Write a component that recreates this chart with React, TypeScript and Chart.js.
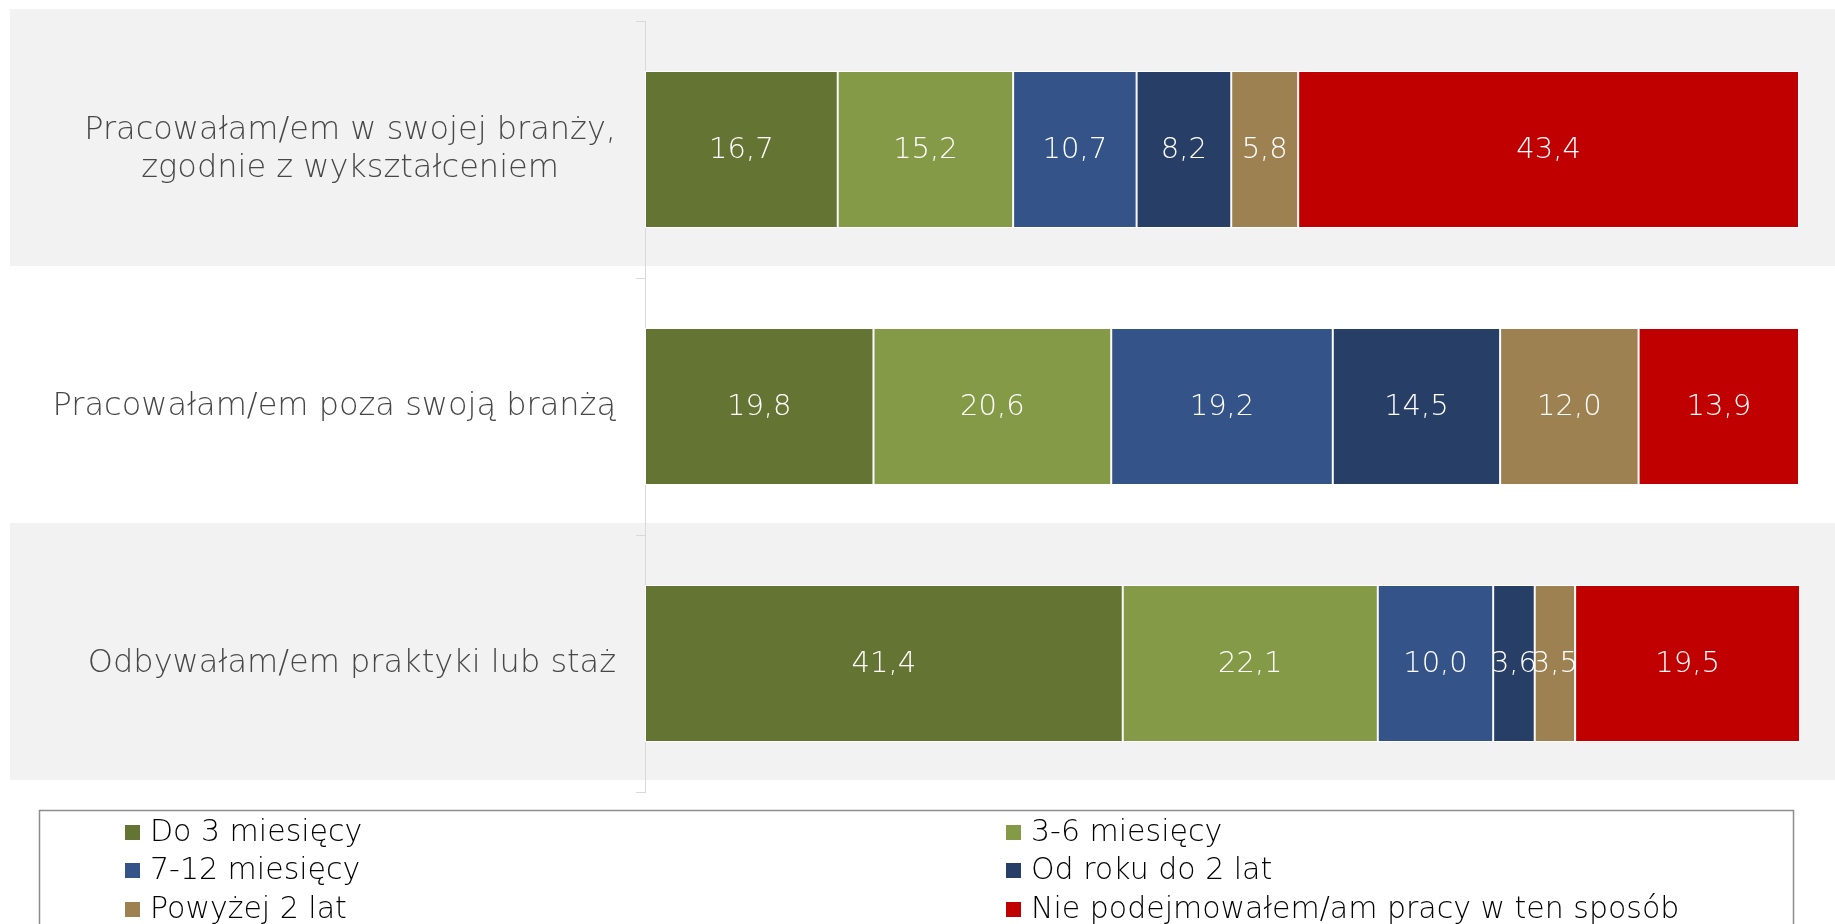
import React, { useEffect, useRef } from 'react';
import { Chart, registerables } from 'chart.js';

Chart.register(...registerables);

const categories: (string | string[])[] = [
  ['Pracowałam/em w swojej branży,', 'zgodnie z wykształceniem'],
  'Pracowałam/em poza swoją branżą',
  'Odbywałam/em praktyki lub staż',
];
const seriesLabels = [
  'Do 3 miesięcy',
  '3-6 miesięcy',
  '7-12 miesięcy',
  'Od roku do 2 lat',
  'Powyżej 2 lat',
  'Nie podejmowałem/am pracy w ten sposób',
];
const doTrzechMiesiecy = [16.7, 19.8, 41.4];
const trzyDoSzesciu = [15.2, 20.6, 22.1];
const siedemDoDwunastu = [10.7, 19.2, 10.0];
const odRokuDoDwoch = [8.2, 14.5, 3.6];
const powyzejDwoch = [5.8, 12.0, 3.5];
const niePodejmowal = [43.4, 13.9, 19.5];
const seriesValues = [doTrzechMiesiecy, trzyDoSzesciu, siedemDoDwunastu, odRokuDoDwoch, powyzejDwoch, niePodejmowal];
const seriesColors = ['#647433', '#859a47', '#345388', '#273e66', '#9e8150', '#c00000'];

const FONT = "'DejaVu Sans', sans-serif";

const bandsPlugin = {
  id: 'bands',
  beforeDraw(chart: any) {
    const { ctx, chartArea, scales } = chart;
    const y = scales.y;
    const n = categories.length;
    const h = (chartArea.bottom - chartArea.top) / n;
    ctx.save();
    ctx.fillStyle = '#f2f2f2';
    for (let i = 0; i < n; i += 2) {
      const c = y.getPixelForValue(i);
      ctx.fillRect(10, c - h / 2 - 12, chart.width - 10, h);
    }
    ctx.restore();
  },
};

const catLabelsPlugin = {
  id: 'catLabels',
  afterDraw(chart: any) {
    const { ctx, chartArea, scales } = chart;
    const y = scales.y;
    ctx.save();
    ctx.font = `200 32px ${FONT}`;
    ctx.fillStyle = '#474747';
    ctx.textBaseline = 'middle';
    ctx.textAlign = 'center';
    const right = chartArea.left - 29;
    categories.forEach((lab, i) => {
      const lines = Array.isArray(lab) ? lab : [lab];
      const maxW = Math.max(...lines.map((l) => ctx.measureText(l).width));
      const cx = right - maxW / 2;
      const c = y.getPixelForValue(i);
      const lh = 37.5;
      lines.forEach((l, j) => {
        ctx.fillText(l, cx, c + (j - (lines.length - 1) / 2) * lh);
      });
    });
    ctx.restore();
  },
};

const dataLabelsPlugin = {
  id: 'dataLabels',
  afterDatasetsDraw(chart: any) {
    const { ctx } = chart;
    ctx.save();
    ctx.font = `200 29px ${FONT}`;
    ctx.fillStyle = '#ffffff';
    ctx.textAlign = 'center';
    ctx.textBaseline = 'middle';
    chart.data.datasets.forEach((ds: any, di: number) => {
      const meta = chart.getDatasetMeta(di);
      meta.data.forEach((el: any, i: number) => {
        const v = ds.data[i];
        const cx = (el.x + el.base) / 2;
        ctx.fillText(v.toFixed(1).replace('.', ','), cx, el.y + 1);
      });
    });
    ctx.restore();
  },
};

const legendPlugin = {
  id: 'customLegend',
  afterDraw(chart: any) {
    const { ctx } = chart;
    ctx.save();
    ctx.strokeStyle = '#8c8c8c';
    ctx.lineWidth = 1.5;
    ctx.strokeRect(39.5, 810.5, 1754, 200);
    ctx.font = `300 30px ${FONT}`;
    ctx.textBaseline = 'middle';
    ctx.textAlign = 'left';
    const colX = [125, 1006];
    const rowY = [832, 870, 909];
    chart.data.datasets.forEach((ds: any, i: number) => {
      const col = i % 2;
      const row = Math.floor(i / 2);
      const x = colX[col];
      const yy = rowY[row];
      ctx.fillStyle = ds.backgroundColor;
      ctx.fillRect(x, yy - 7, 15, 15);
      ctx.fillStyle = '#000000';
      ctx.fillText(ds.label, x + 25, yy + 1);
    });
    ctx.restore();
  },
};

export default function App() {
  const ref = useRef<HTMLCanvasElement | null>(null);
  useEffect(() => {
    if (!ref.current) return;
    const chart = new Chart(ref.current, {
      type: 'bar',
      data: {
        labels: categories as any,
        datasets: seriesLabels.map((label, i) => ({
          label,
          data: seriesValues[i],
          backgroundColor: seriesColors[i],
          borderColor: '#ffffff',
          borderWidth: 1,
          borderSkipped: false,
          categoryPercentage: 1,
          barPercentage: 0.61,
        })),
      },
      options: {
        indexAxis: 'y',
        responsive: false,
        animation: false,
        layout: { padding: { top: 21, right: 36, bottom: 132, left: 0 } },
        plugins: { legend: { display: false }, tooltip: { enabled: false } },
        scales: {
          x: { stacked: true, min: 0, max: 100, display: false },
          y: {
            stacked: true,
            grid: { offset: true, drawOnChartArea: false, tickLength: 9, color: '#d9d9d9' },
            border: { color: '#d9d9d9' },
            ticks: { display: false },
            afterFit(scale: any) {
              scale.width = 645;
            },
          },
        },
      } as any,
      plugins: [bandsPlugin, catLabelsPlugin, dataLabelsPlugin, legendPlugin],
    });
    return () => chart.destroy();
  }, []);
  return (
    <div style={{ position: 'fixed', left: 0, top: 0, width: 1835, height: 924, background: '#ffffff' }}>
      <canvas ref={ref} width={1835} height={924} style={{ display: 'block' }} />
    </div>
  );
}
